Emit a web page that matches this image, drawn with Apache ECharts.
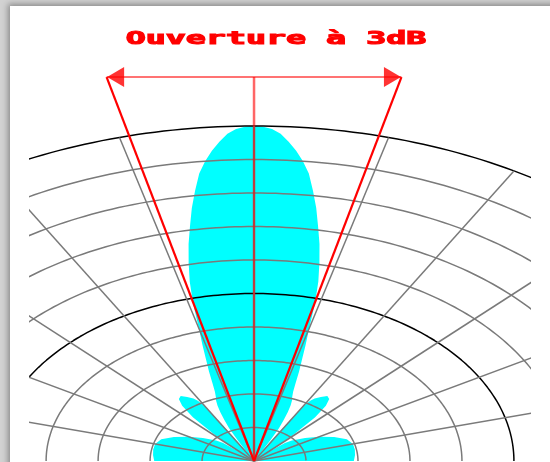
<!DOCTYPE html>
<html>
<head>
<meta charset="utf-8">
<script src="https://cdn.jsdelivr.net/npm/echarts@6/dist/echarts.min.js"></script>
<style>
  html, body { margin: 0; padding: 0; width: 550px; height: 462px; overflow: hidden; background: #d2d2d2; }
  #sheet { position: absolute; left: 10px; top: 6px; width: 600px; height: 500px; background: #fff;
           box-shadow: -2px -2px 6px rgba(0, 0, 0, 0.35); }
  #chart { position: absolute; left: 0; top: 0; width: 550px; height: 462px; }
</style>
</head>
<body>
<div id="sheet"></div>
<div id="chart"></div>
<script>
// Radiation pattern: angle from boresight (degrees) and radius in ring units (10 = peak)
const patternAngles = [
  -90, -85, -80, -75, -70, -65, -60, -55, -50, -48, -47, -46, -45, -44, -42, -40, -38, -36, -34, -32,
  -31, -30, -29, -28, -27, -26, -25, -24, -23, -22, -21, -20, -19, -18, -17, -16, -15, -14, -13, -12,
  -11, -10, -9, -8, -7, -6, -5, -4, -3, -2, -1, 0,
  1, 2, 3, 4, 5, 6, 7, 8, 9, 10, 11, 12, 13, 14, 15, 16, 17, 18, 19, 20,
  21, 22, 23, 24, 25, 26, 27, 28, 29, 30, 31, 32, 34, 36, 38, 40, 42, 44, 45, 46,
  47, 48, 50, 55, 60, 65, 70, 75, 80, 85, 90
];
const patternRadius = [
  1.92, 1.95, 1.97, 1.97, 1.9, 1.7, 1.45, 1.2, 0.95, 0.8, 0.5, 0.2, 0.5, 1.1, 1.75, 2.15, 2.35, 2.4, 2.3, 2.2,
  2.1, 1.9, 0.9, 0.25, 0.7, 1.1, 1.35, 1.6, 1.8, 1.95, 2.05, 2.2, 2.45, 2.8, 3.15, 3.6, 4.1, 4.85, 5.5, 6.05,
  6.6, 7.1, 7.65, 8.15, 8.65, 9.0, 9.3, 9.55, 9.78, 9.92, 9.98, 10.0,
  9.98, 9.92, 9.78, 9.55, 9.3, 9.0, 8.65, 8.15, 7.65, 7.1, 6.6, 6.05, 5.5, 4.85, 4.1, 3.6, 3.15, 2.8, 2.45, 2.2,
  2.05, 1.95, 1.8, 1.6, 1.35, 1.1, 0.7, 0.25, 0.9, 1.9, 2.1, 2.2, 2.3, 2.4, 2.35, 2.15, 1.75, 1.1, 0.5, 0.2,
  0.5, 0.8, 0.95, 1.2, 1.45, 1.7, 1.9, 1.97, 1.97, 1.95, 1.92
];

// Grid: concentric rings and radial spokes
const ringValues = [1, 2, 3, 4, 5, 6, 7, 8, 9, 10];
const boldRings = [5, 10];
const spokeAngles = [-75, -60, -45, -30, -15, 0, 15, 30, 45, 60, 75];

// Half-power (-3 dB) beam edges and the height of the dimension arrow
const halfPowerAngles = [-13.9, 13.9];
const arrowLevel = 11.46;
const titleText = 'Ouverture à 3dB';

const toXY = (deg, r) => {
  const a = deg * Math.PI / 180;
  return [r * Math.sin(a), r * Math.cos(a)];
};

const lobeData = patternAngles.map((a, i) => toXY(a, patternRadius[i]));

const series = [];

series.push({
  type: 'line', name: 'pattern', data: lobeData, symbol: 'none', smooth: false,
  lineStyle: { width: 0, opacity: 0 },
  areaStyle: { color: '#00ffff', opacity: 1 },
  z: 1, silent: true
});

ringValues.forEach(r => {
  const pts = [];
  for (let a = -90; a <= 90; a += 1) pts.push(toXY(a, r));
  series.push({
    type: 'line', data: pts, symbol: 'none', silent: true, z: 2,
    lineStyle: { color: boldRings.includes(r) ? '#000000' : '#7a7a7a', width: 1.5 }
  });
});

spokeAngles.forEach(a => {
  series.push({
    type: 'line', data: [[0, 0], toXY(a, ringValues[ringValues.length - 1])], symbol: 'none', silent: true, z: 2,
    lineStyle: { color: '#7a7a7a', width: 1.5 }
  });
});

const edgeTops = halfPowerAngles.map(a => [arrowLevel * Math.tan(a * Math.PI / 180), arrowLevel]);

// Beam edge lines
edgeTops.forEach(p => {
  series.push({
    type: 'line', data: [[0, 0], p], symbol: 'none', silent: true, z: 4,
    lineStyle: { color: '#ff0000', width: 2.2 }
  });
});

// Boresight axis and dimension line
series.push({
  type: 'line', data: [[0, 0], [0, arrowLevel]], symbol: 'none', silent: true, z: 3,
  lineStyle: { color: 'rgba(255,0,0,0.6)', width: 2.5 }
});
series.push({
  type: 'line', data: edgeTops, symbol: 'none', silent: true, z: 3,
  lineStyle: { color: 'rgba(255,0,0,0.55)', width: 2 }
});

// Arrowheads at both ends of the dimension line
series.push({
  type: 'scatter', silent: true, z: 5,
  symbol: 'triangle', symbolSize: [20, 17],
  itemStyle: { color: '#ff0000' },
  data: [
    { value: edgeTops[0], symbolRotate: 90, symbolOffset: [9, 0] },
    { value: edgeTops[1], symbolRotate: -90, symbolOffset: [-9, 0] }
  ]
});

const chart = echarts.init(document.getElementById('chart'), null, { renderer: 'canvas' });
chart.setOption({
  animation: false,
  backgroundColor: 'transparent',
  grid: { left: 30, right: 21, top: 5.4, bottom: 1, containLabel: false },
  xAxis: { type: 'value', min: -4.31, max: 5.29, show: false, splitLine: { show: false } },
  yAxis: { type: 'value', min: 0, max: 13.6, show: false, splitLine: { show: false } },
  graphic: [{
    type: 'text', x: 276, y: 39, scaleX: 1.85, silent: true,
    style: {
      text: titleText, font: 'bold 18px "DejaVu Sans Mono"', fill: '#ff0000',
      stroke: '#ff0000', lineWidth: 1.1,
      textAlign: 'center', textVerticalAlign: 'middle'
    }
  }],
  series: series
});
</script>
</body>
</html>
